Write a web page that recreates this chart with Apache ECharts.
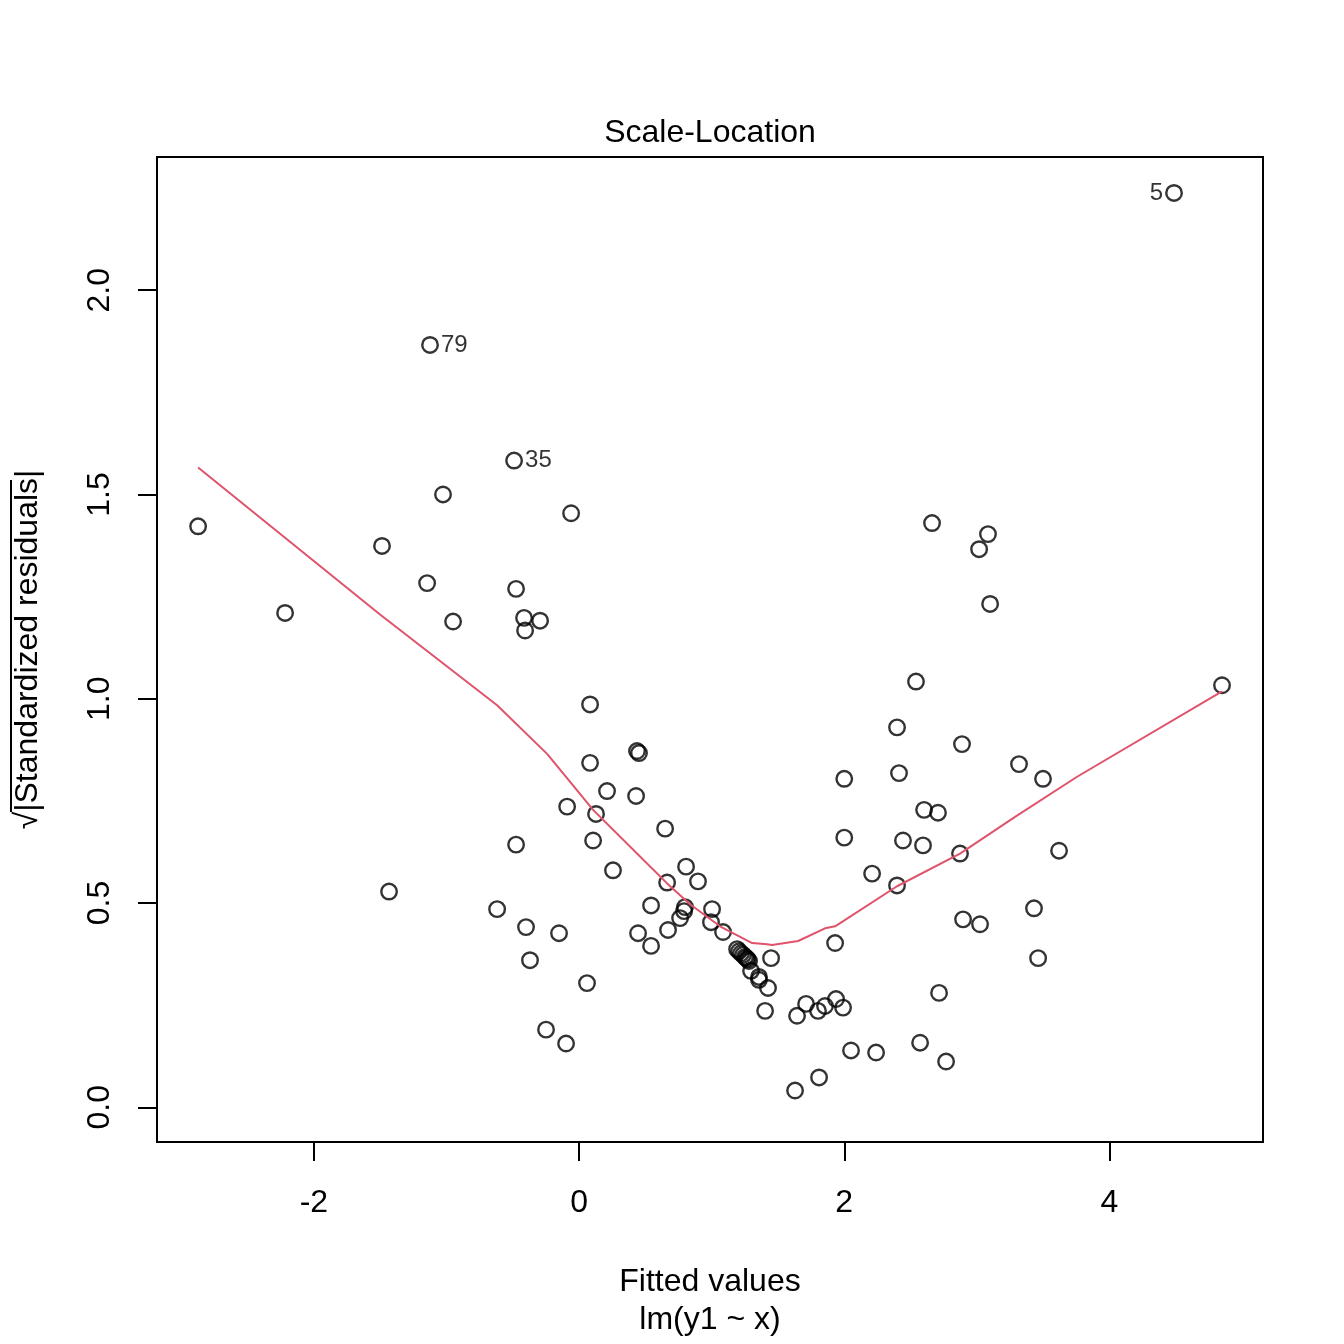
<!DOCTYPE html>
<html>
<head>
<meta charset="utf-8">
<script src="https://cdn.jsdelivr.net/npm/echarts@6/dist/echarts.min.js"></script>
<style>
html,body{margin:0;padding:0;background:#fff}
#chart{width:1344px;height:1344px}
</style>
</head>
<body>
<div id="chart"></div>
<script>
// fitted values and sqrt(|standardized residuals|)
// first three points are the labelled ones
var idLabels = ['5', '79', '35'];
var fitted = [
    4.487, -1.124, -0.490,
    -2.873, -2.217, -1.486, -1.146, -1.026, -0.950, -0.475, -0.415, -0.407, -0.294,
    -0.060, 0.083, 0.083, 0.437, 0.452, 0.211, 0.430, 0.128, -0.090, 0.649,
    0.106, -0.475, 0.256, 0.807, 0.664, 0.897, -1.433, -0.618, 0.543, 0.799,
    0.792, 0.762, 1.003, 0.995, 1.086, -0.400, -0.151, 0.445, 0.671, 0.543,
    -0.370, 0.060, -0.249, -0.098, 1.192, 1.207, 1.222, 1.237, 1.252, 1.262,
    1.272, 1.282, 1.297, 1.357, 1.357, 1.448, 1.425, 1.403, 1.629, 1.644,
    1.712, 1.802, 1.810, 1.855, 1.938, 1.991, 1.931, 2.051, 2.240, 2.000,
    2.000, 2.210, 2.398, 2.443, 2.413, 2.398, 2.541, 2.662, 2.594, 2.602,
    2.707, 2.572, 2.715, 2.768, 2.873, 2.888, 2.896, 3.024, 3.017, 3.084,
    3.100, 3.318, 3.431, 3.462, 3.499, 3.620, 4.849
];
var sqrtRes = [
    2.238, 1.866, 1.583,
    1.422, 1.210, 1.374, 1.283, 1.500, 1.189, 1.269, 1.198, 1.167, 1.191,
    1.454, 0.986, 0.843, 0.872, 0.867, 0.774, 0.762, 0.718, 0.736, 0.682,
    0.653, 0.643, 0.580, 0.589, 0.550, 0.553, 0.528, 0.485, 0.494, 0.490,
    0.480, 0.463, 0.485, 0.453, 0.429, 0.441, 0.426, 0.426, 0.434, 0.395,
    0.360, 0.304, 0.190, 0.156, 0.387, 0.382, 0.377, 0.373, 0.368, 0.365,
    0.362, 0.358, 0.334, 0.319, 0.312, 0.365, 0.292, 0.236, 0.041, 0.224,
    0.253, 0.236, 0.073, 0.248, 0.265, 0.244, 0.402, 0.139, 0.134, 0.804,
    0.660, 0.572, 0.543, 0.653, 0.818, 0.930, 1.042, 1.430, 0.641, 0.728,
    0.721, 0.158, 0.280, 0.112, 0.621, 0.889, 0.460, 0.448, 1.366, 1.403,
    1.232, 0.840, 0.487, 0.365, 0.804, 0.628, 1.033
];

// red smoother
var smoothX = [-2.873, -1.501, -0.618, -0.241, 0.106, 0.437, 0.664, 0.837, 1.063, 1.305,
    1.418, 1.456, 1.652, 1.855, 1.931, 2.398, 2.873, 3.288, 3.756, 4.849];
var smoothY = [1.566, 1.206, 0.984, 0.865, 0.728, 0.621, 0.548, 0.497, 0.443, 0.402,
    0.399, 0.397, 0.407, 0.438, 0.443, 0.541, 0.621, 0.711, 0.809, 1.018];

var xTicks = [-2, 0, 2, 4];
var yTicks = [0, 0.5, 1, 1.5, 2];

var font = 'Liberation Sans, Arial, Helvetica, sans-serif';

var chart = echarts.init(document.getElementById('chart'));

var points = [];
for (var i = 0; i < fitted.length; i++) {
    var item = {value: [fitted[i], sqrtRes[i]]};
    if (i < idLabels.length) {
        item.label = {
            show: true,
            formatter: idLabels[i],
            position: i == 0 ? 'left' : 'right',
            distance: 2,
            fontSize: 24,
            fontFamily: font,
            color: '#000'
        };
    }
    points.push(item);
}
var smooth = [];
for (var j = 0; j < smoothX.length; j++) {
    smooth.push([smoothX[j], smoothY[j]]);
}

var option = {
    animation: false,
    backgroundColor: '#fff',
    title: {
        text: 'Scale-Location',
        left: 705,
        top: 112,
        textAlign: 'center',
        textStyle: {fontSize: 32, fontWeight: 'normal', color: '#000', fontFamily: font}
    },
    grid: {
        left: 157, top: 157, width: 1106, height: 990,
        show: true, borderColor: '#000', borderWidth: 2, backgroundColor: 'transparent'
    },
    xAxis: {
        type: 'value',
        min: -3.183, max: 5.158,
        name: 'Fitted values\nlm(y1 ~ x)',
        nameLocation: 'middle',
        nameGap: 121,
        nameTextStyle: {fontSize: 32, color: '#000', fontFamily: font, lineHeight: 38},
        axisLine: {show: false, onZero: false},
        splitLine: {show: false},
        axisTick: {show: true, length: 19, customValues: xTicks, lineStyle: {color: '#000', width: 2}},
        axisLabel: {customValues: xTicks, fontSize: 32, color: '#000', fontFamily: font, margin: 45}
    },
    yAxis: {
        type: 'value',
        min: -0.085, max: 2.326,
        name: '\u221A|Standardized residuals|',
        nameLocation: 'middle',
        nameGap: 113,
        nameTextStyle: {fontSize: 32, color: '#000', fontFamily: font},
        axisLine: {show: false, onZero: false},
        splitLine: {show: false},
        axisTick: {show: true, length: 19, customValues: yTicks, lineStyle: {color: '#000', width: 2}},
        axisLabel: {
            customValues: yTicks, fontSize: 32, color: '#000', fontFamily: font, margin: 41, rotate: 90,
            formatter: function (v) { return v.toFixed(1); }
        }
    },
    graphic: [
        // bar of the square root sign
        {type: 'line', shape: {x1: 11, y1: 480, x2: 11, y2: 812}, style: {stroke: '#000', lineWidth: 2}}
    ],
    series: [
        {
            type: 'scatter',
            data: points,
            symbol: 'circle',
            symbolSize: 15.5,
            itemStyle: {color: 'rgba(0,0,0,0)', borderColor: '#000', borderWidth: 2.4},
            emphasis: {disabled: true}
        },
        {
            type: 'line',
            data: smooth,
            showSymbol: false,
            lineStyle: {color: '#DF536B', width: 2},
            emphasis: {disabled: true},
            z: 3
        }
    ]
};
chart.setOption(option);
</script>
</body>
</html>
